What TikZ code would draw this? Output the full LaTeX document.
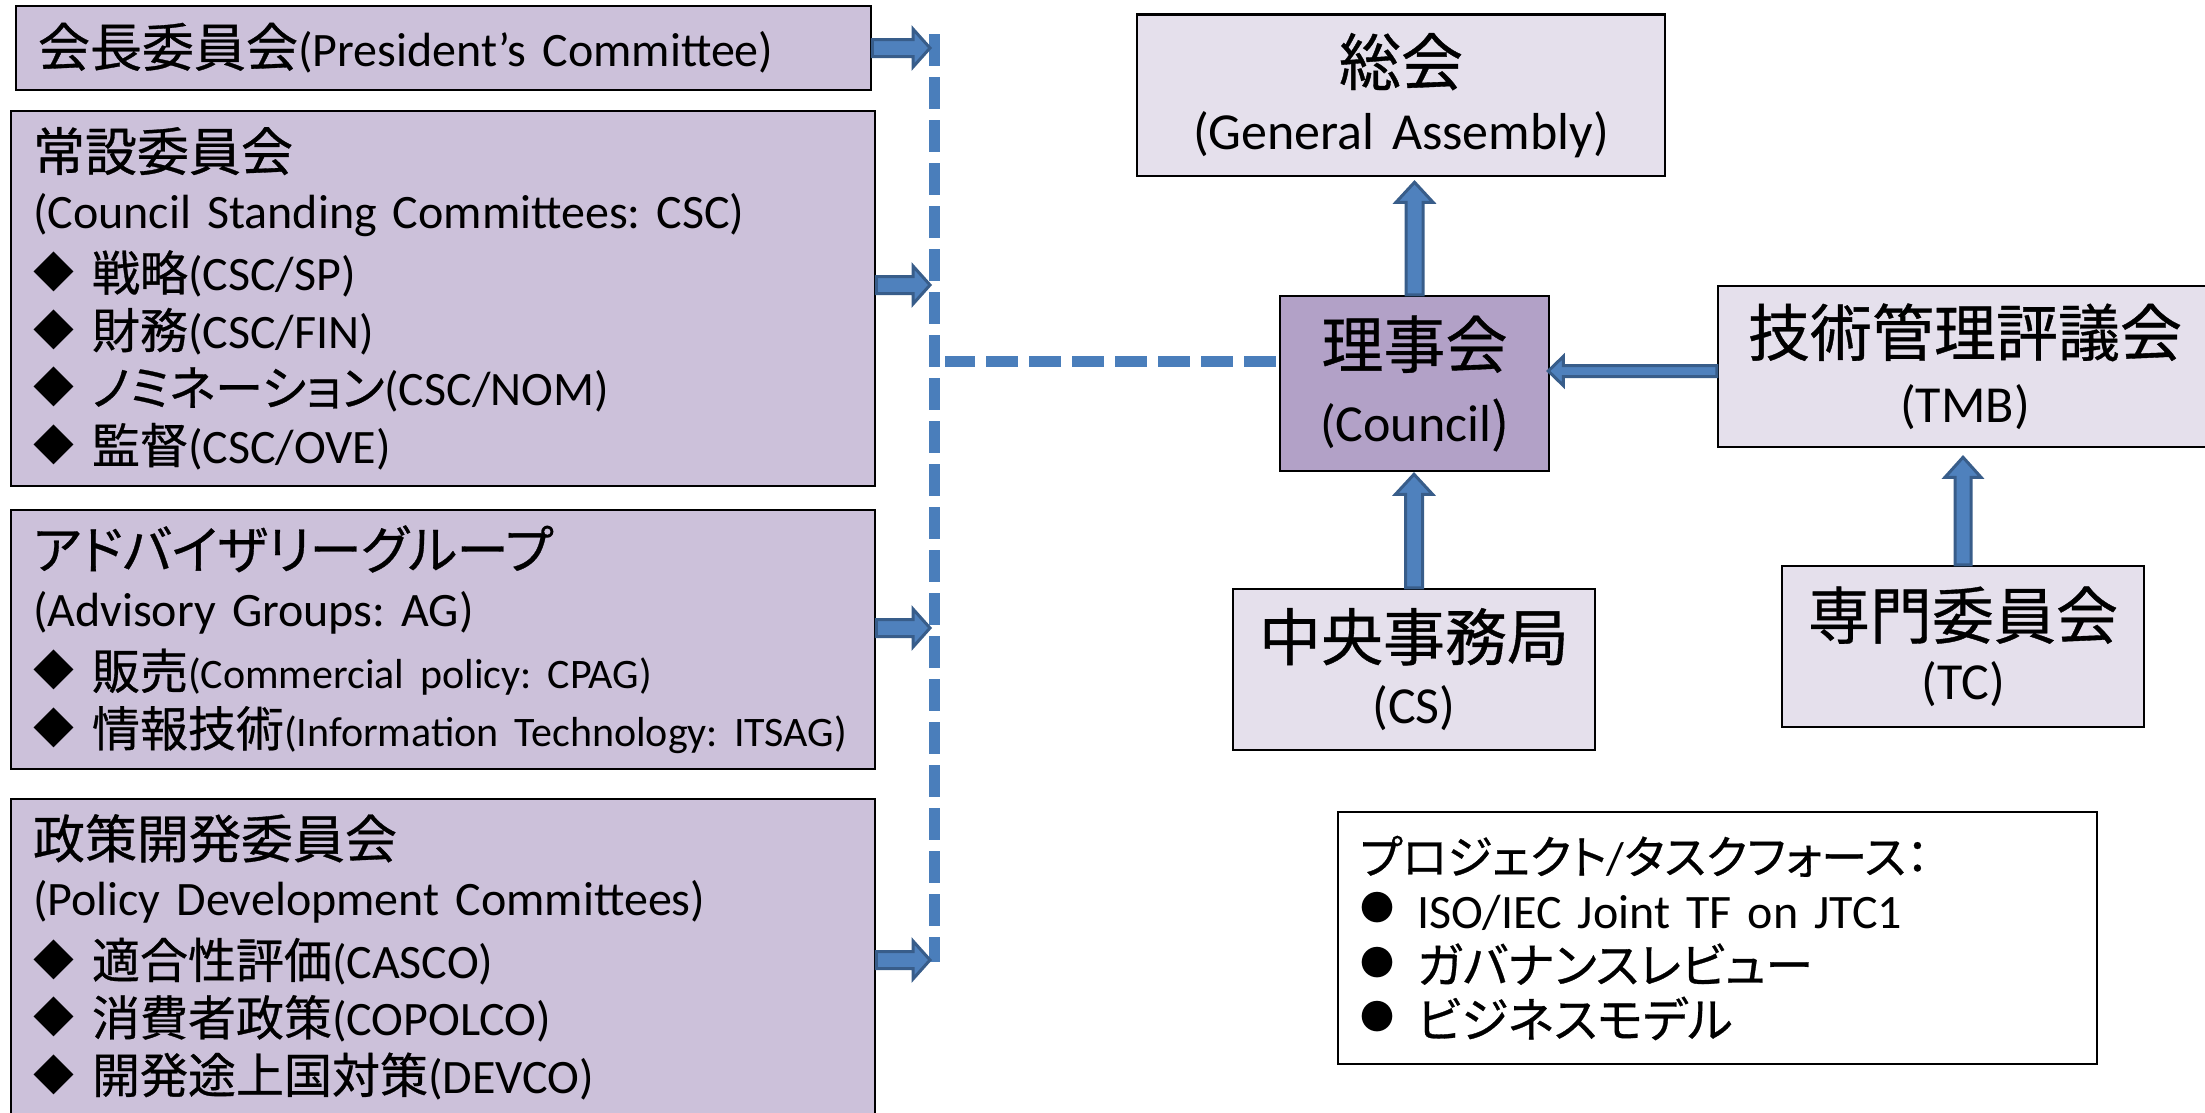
\documentclass[tikz,border=0pt]{standalone}
\usepackage{fontspec}
\setmainfont{Carlito}[WordSpace=0.8]
\newfontfamily\jpf{Noto Sans CJK JP}[RawFeature=+palt, FakeBold=0.6]
\newfontfamily\jsym{Noto Sans CJK JP}
\usetikzlibrary{calc}
\frenchspacing
\hyphenpenalty=10000
\exhyphenpenalty=10000
\newcommand{\jt}[1]{{\jpf #1}}
\newcommand{\ttl}[1]{{\fontsize{52}{57.5}\selectfont\jpf #1}}
\newcommand{\dia}{\makebox[59pt][l]{\raisebox{3pt}{\jsym\fontsize{41}{41}\selectfont ◆}}}
\newcommand{\bul}{\makebox[57pt][l]{\raisebox{8pt}{\jsym\fontsize{34}{34}\selectfont ●}}}
\definecolor{leftfill}{HTML}{CCC1DA}
\definecolor{rightfill}{HTML}{E5E0EC}
\definecolor{councilfill}{HTML}{B2A1C7}
\definecolor{arrowfill}{HTML}{4F81BD}
\definecolor{arrowdraw}{HTML}{385D8A}
\definecolor{dashc}{HTML}{4A7EBB}
\tikzset{
  lbox/.style={draw=black, line width=2.5pt, fill=leftfill, inner xsep=22pt, inner ysep=0pt,
    align=left, font=\fontsize{48}{57.5}\selectfont\frenchspacing},
  rbox/.style={draw=black, line width=2.5pt, fill=rightfill, inner sep=0pt,
    align=center},
  blockarrow/.style={fill=arrowfill, draw=arrowdraw, line width=3pt, line join=miter},
  dashline/.style={draw=dashc, line width=11pt, dash pattern=on 32pt off 11pt}
}
\newcommand{\arrR}[5]{\filldraw[blockarrow] let \p1=(#1), \p2=(#2) in
  (\x1,\y1+#3) -- (\x2-#5,\y1+#3) -- (\x2-#5,\y1+#4) -- (\x2,\y1) -- (\x2-#5,\y1-#4) -- (\x2-#5,\y1-#3) -- (\x1,\y1-#3) -- cycle;}
\newcommand{\arrL}[5]{\filldraw[blockarrow] let \p1=(#1), \p2=(#2) in
  (\x1,\y1+#3) -- (\x2+#5,\y1+#3) -- (\x2+#5,\y1+#4) -- (\x2,\y1) -- (\x2+#5,\y1-#4) -- (\x2+#5,\y1-#3) -- (\x1,\y1-#3) -- cycle;}
\newcommand{\arrU}[5]{\filldraw[blockarrow] let \p1=(#1), \p2=(#2) in
  (\x1-#3,\y1) -- (\x1-#3,\y2-#5) -- (\x1-#4,\y2-#5) -- (\x1,\y2) -- (\x1+#4,\y2-#5) -- (\x1+#3,\y2-#5) -- (\x1+#3,\y1) -- cycle;}
\begin{document}
\begin{tikzpicture}[x=1pt,y=-1pt]
\useasboundingbox (0,0) rectangle (2205,1112);

% left boxes
\node[lbox, text width=811pt, minimum height=84pt] (pc) at (443.5,48)
  {\ttl{会長委員会}(President’s Committee)};
\node[lbox, text width=820pt, minimum height=375pt] (csc) at (443,298.5)
  {\ttl{常設委員会}\\
   (Council Standing Committees: CSC)\\[5pt]
   \dia\jt{戦略}(CSC/SP)\\
   \dia\jt{財務}(CSC/FIN)\\
   \dia\jt{ノミネーション}(CSC/NOM)\\
   \dia\jt{監督}(CSC/OVE)};
\node[lbox, text width=820pt, minimum height=259pt] (ag) at (443,639.5)
  {\ttl{アドバイザリーグループ}\\
   (Advisory Groups: AG)\\[5pt]
   \dia\jt{販売}{\fontsize{42}{57.5}\selectfont(Commercial policy: CPAG)}\\
   \dia\jt{情報技術}{\fontsize{42}{57.5}\selectfont(Information Technology: ITSAG)}};
\node[lbox, text width=820pt, minimum height=316pt] (pdc) at (443,957)
  {\ttl{政策開発委員会}\\
   (Policy Development Committees)\\[5pt]
   \dia\jt{適合性評価}(CASCO)\\
   \dia\jt{消費者政策}(COPOLCO)\\
   \dia\jt{開発途上国対策}(DEVCO)};

% right boxes
\node[rbox, text width=528pt, minimum height=161.5pt, font=\fontsize{52}{64}\selectfont] (ga) at (1401,95.25)
  {{\fontsize{62}{64}\selectfont\jt{総会}}\\(General Assembly)};
\node[rbox, fill=councilfill, text width=269pt, minimum height=175pt, font=\fontsize{52}{73.5}\selectfont] (council) at (1414.5,383.5)
  {{\fontsize{62}{73.5}\selectfont\jt{理事会}}\\(Council\jt{)}};
\node[rbox, text width=494pt, minimum height=161pt, font=\fontsize{52}{66.5}\selectfont] (tmb) at (1965,366.5)
  {{\fontsize{62}{66.5}\selectfont\jt{技術管理評議会}}\\(TMB)};
\node[rbox, text width=362pt, minimum height=161pt, font=\fontsize{52}{63.5}\selectfont] (cs) at (1414,669.5)
  {{\fontsize{62}{63.5}\selectfont\jt{中央事務局}}\\(CS)};
\node[rbox, text width=362pt, minimum height=161pt, font=\fontsize{52}{60.5}\selectfont] (tc) at (1963,646.5)
  {{\fontsize{62}{60.5}\selectfont\jt{専門委員会}}\\(TC)};

% project box
\node[draw=black, line width=2.5pt, fill=white, inner xsep=22pt, inner ysep=0pt, align=left,
  text width=715pt, minimum height=252pt, font=\fontsize{48}{54.5}\selectfont] (proj) at (1717.5,938)
  {{\fontsize{46}{54.5}\selectfont\jt{プロジェクト}/\jt{タスクフォース：}}\\
   \bul ISO/IEC Joint TF on JTC1\\
   \bul\jt{ガバナンスレビュー}\\
   \bul\jt{ビジネスモデル}};

% dashed connector
\coordinate (a1) at (930,48);
\coordinate (a2) at (930,285);
\coordinate (a3) at (930,628);
\coordinate (a4) at (930,960);
\coordinate (vtop) at (934,34);
\coordinate (vbot) at (934,962);
\coordinate (hl) at (945,361);
\draw[dashline] (vtop) -- (vbot);
\draw[dashline] ($(council.west |- hl)+(-3,0)$) -- (hl);

% block arrows
\arrR{pc.east |- a1}{a1}{8.5pt}{19pt}{17pt}
\arrR{csc.east |- a2}{a2}{8.5pt}{19pt}{17pt}
\arrR{ag.east |- a3}{a3}{8.5pt}{19pt}{17pt}
\arrR{pdc.east |- a4}{a4}{8.5pt}{19pt}{17pt}
\arrU{council.north}{$(council.north |- ga.south)+(0,5)$}{8.5pt}{18.5pt}{20pt}
\arrU{cs.north}{$(cs.north |- council.south)+(0,2)$}{8.5pt}{18.5pt}{20pt}
\arrU{tc.north}{$(tc.north |- tmb.south)+(0,9)$}{8pt}{18pt}{20pt}
\arrL{$(tmb.west)+(0,4.5)$}{$(council.east |- tmb.west)+(-2,4.5)$}{5.5pt}{14.5pt}{15pt}
\end{tikzpicture}
\end{document}
